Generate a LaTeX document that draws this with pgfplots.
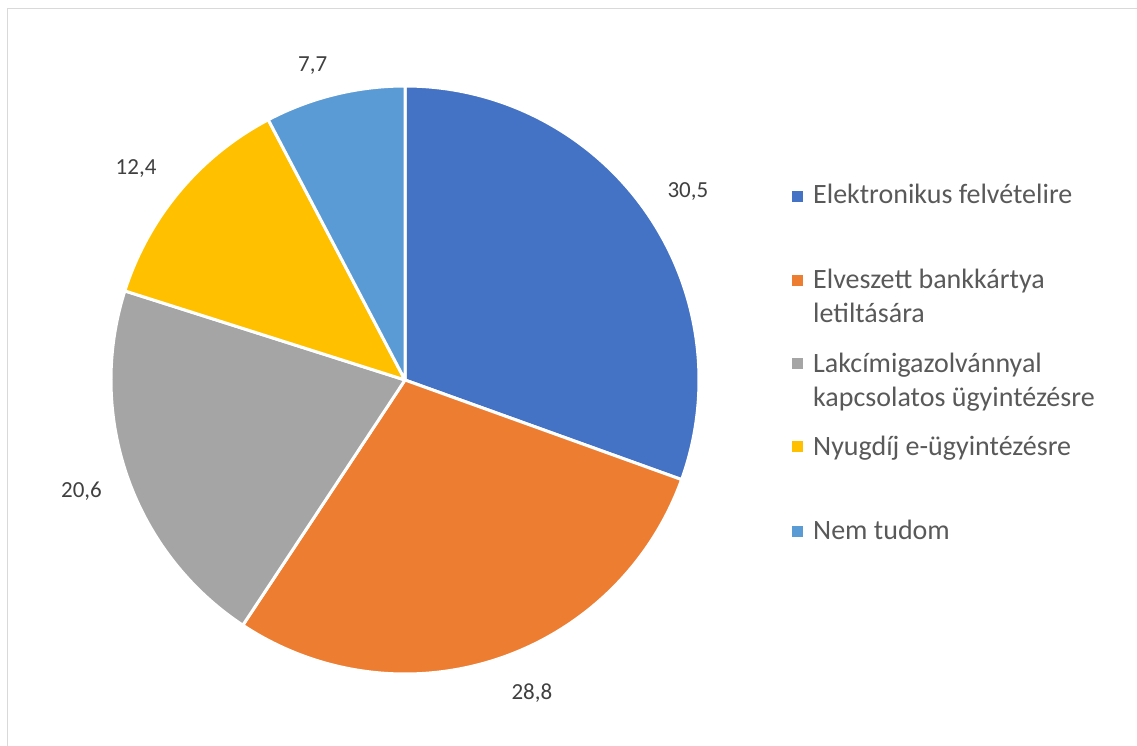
\documentclass[border=0pt]{standalone}
\usepackage{fontspec}
\setmainfont{Carlito}
\usepackage{pgfplots}
\usepackage{pgfplotstable}
\pgfplotsset{compat=1.18}
\definecolor{c1}{HTML}{4472C4}
\definecolor{c2}{HTML}{ED7D31}
\definecolor{c3}{HTML}{A5A5A5}
\definecolor{c4}{HTML}{FFC000}
\definecolor{c5}{HTML}{5B9BD5}
\definecolor{txt}{HTML}{595959}
\definecolor{lbl}{HTML}{404040}
\definecolor{framec}{HTML}{D9D9D9}
\newcommand\lblfont{\fontsize{23}{28}\selectfont}
\newcommand\legfont{\fontsize{28}{34}\selectfont}

% value; data label; colour; label distance from centre; label angle offset
\pgfplotstableread[col sep=semicolon]{
value;label;color;dist;dang
30.5;30,5;c1;340;-1.4
28.8;28,8;c2;338;3.7
20.6;20,6;c3;342;-0.5
12.4;12,4;c4;342;1.8
7.7;7,7;c5;328;2.5
}\piedata

\begin{document}
\begin{tikzpicture}
\begin{axis}[scale only axis, width=1137pt, height=746pt,
  xmin=0, xmax=1137, ymin=0, ymax=746, y dir=reverse,
  hide axis, clip=false]
\def\startang{90}
\pgfplotsforeachungrouped \i in {0,...,4}{%
  \pgfplotstablegetelem{\i}{value}\of\piedata \let\val\pgfplotsretval
  \pgfplotstablegetelem{\i}{label}\of\piedata \let\lab\pgfplotsretval
  \pgfplotstablegetelem{\i}{color}\of\piedata \let\col\pgfplotsretval
  \pgfplotstablegetelem{\i}{dist}\of\piedata \let\dst\pgfplotsretval
  \pgfplotstablegetelem{\i}{dang}\of\piedata \let\dang\pgfplotsretval
  \pgfmathsetmacro\endang{\startang-3.6*\val}%
  \pgfmathsetmacro\midang{(\startang+\endang)/2+\dang}%
  \edef\cmd{%
    \noexpand\filldraw[fill=\col, draw=white, line width=3pt, line join=round]
      (axis cs:405,380) -- ++(\startang:294pt)
      arc[start angle=\startang, end angle=\endang, radius=294pt] -- cycle;
    \noexpand\node[font=\noexpand\lblfont, text=lbl]
      at ([shift={(\midang:\dst pt)}]axis cs:405,380) {\lab};
  }%
  \cmd
  \global\let\startang\endang
}
% legend
\fill[c1] (axis cs:792,191) rectangle (axis cs:803,202);
\node[anchor=base west, font=\legfont, text=txt, inner sep=0pt] at (axis cs:813,204) {Elektronikus felvételire};
\fill[c2] (axis cs:792,275) rectangle (axis cs:803,286);
\node[anchor=base west, font=\legfont, text=txt, inner sep=0pt] at (axis cs:813,288) {Elveszett bankkártya};
\node[anchor=base west, font=\legfont, text=txt, inner sep=0pt] at (axis cs:813,322) {letiltására};
\fill[c3] (axis cs:792,358) rectangle (axis cs:803,369);
\node[anchor=base west, font=\legfont, text=txt, inner sep=0pt] at (axis cs:813,372.5) {Lakcímigazolvánnyal};
\node[anchor=base west, font=\legfont, text=txt, inner sep=0pt] at (axis cs:813,406.5) {kapcsolatos ügyintézésre};
\fill[c4] (axis cs:792,441) rectangle (axis cs:803,452);
\node[anchor=base west, font=\legfont, text=txt, inner sep=0pt] at (axis cs:813,455) {Nyugdíj e-ügyintézésre};
\fill[c5] (axis cs:792,526) rectangle (axis cs:803,537);
\node[anchor=base west, font=\legfont, text=txt, inner sep=0pt] at (axis cs:813,539) {Nem tudom};
% chart frame
\draw[framec, line width=1.5pt] (axis cs:7.5,746) -- (axis cs:7.5,8.5) -- (axis cs:1137,8.5);
\end{axis}
\pgfresetboundingbox
\path[use as bounding box] (current axis.south west) rectangle (current axis.north east);
\end{tikzpicture}
\end{document}
